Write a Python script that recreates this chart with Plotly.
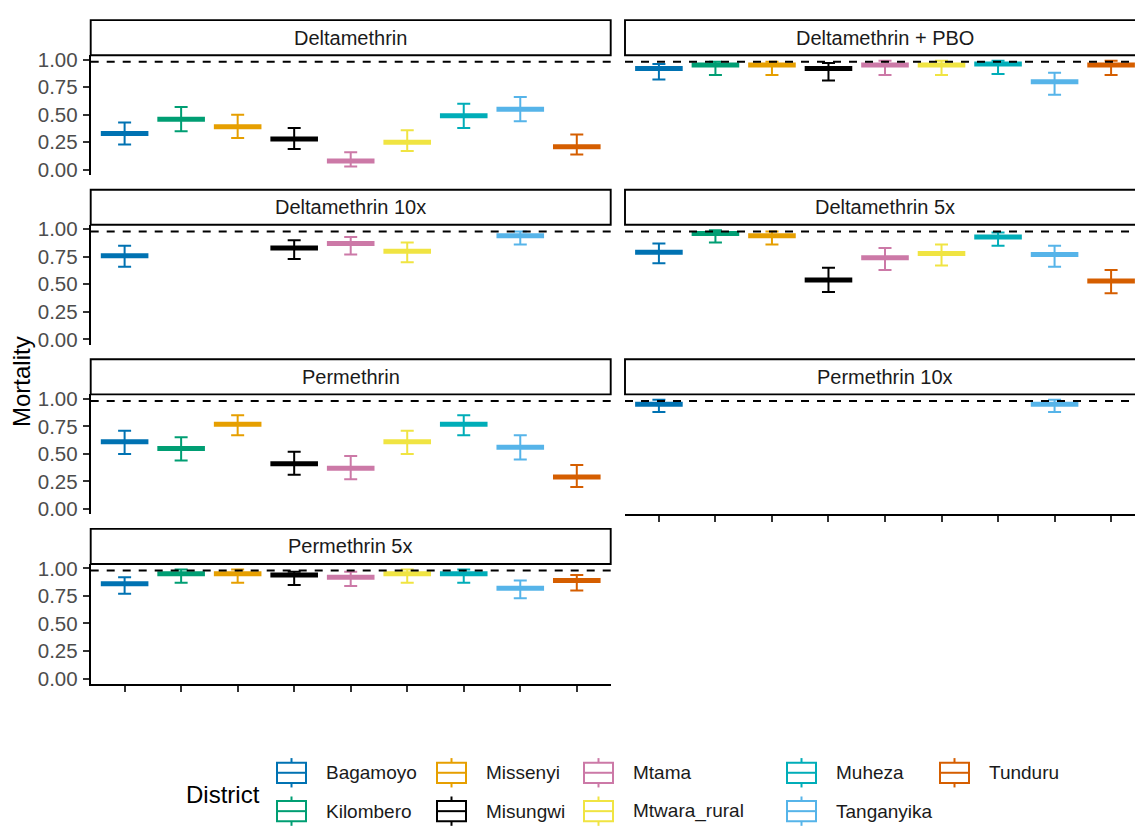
import plotly.graph_objects as go

# ---- data -------------------------------------------------------------
districts = ["Bagamoyo", "Kilombero", "Missenyi", "Misungwi", "Mtama",
             "Mtwara_rural", "Muheza", "Tanganyika", "Tunduru"]
district_colors = ["#0072B2", "#009E73", "#E69F00", "#000000", "#CC79A7",
                   "#F0E442", "#00ADB8", "#56B4E9", "#D55E00"]

insecticides = ["Deltamethrin", "Deltamethrin + PBO", "Deltamethrin 10x",
                "Deltamethrin 5x", "Permethrin", "Permethrin 10x", "Permethrin 5x"]

delta_mid = [0.33, 0.46, 0.39, 0.28, 0.08, 0.25, 0.49, 0.55, 0.21]
delta_lo = [0.23, 0.35, 0.29, 0.19, 0.03, 0.17, 0.38, 0.44, 0.14]
delta_hi = [0.43, 0.57, 0.50, 0.38, 0.16, 0.36, 0.60, 0.66, 0.32]

pbo_mid = [0.92, 0.95, 0.95, 0.92, 0.95, 0.95, 0.96, 0.80, 0.95]
pbo_lo = [0.82, 0.86, 0.86, 0.81, 0.86, 0.86, 0.87, 0.68, 0.86]
pbo_hi = [0.96, 0.98, 0.98, 0.97, 0.99, 0.99, 0.99, 0.88, 0.99]

delta10_mid = [0.76, None, None, 0.83, 0.87, 0.80, None, 0.94, None]
delta10_lo = [0.66, None, None, 0.73, 0.77, 0.70, None, 0.86, None]
delta10_hi = [0.85, None, None, 0.90, 0.93, 0.88, None, 0.98, None]

delta5_mid = [0.79, 0.96, 0.94, 0.54, 0.74, 0.78, 0.93, 0.77, 0.53]
delta5_lo = [0.69, 0.88, 0.86, 0.43, 0.63, 0.67, 0.85, 0.66, 0.42]
delta5_hi = [0.87, 0.99, 0.98, 0.65, 0.83, 0.86, 0.97, 0.85, 0.63]

perm_mid = [0.61, 0.55, 0.77, 0.41, 0.37, 0.61, 0.77, 0.56, 0.29]
perm_lo = [0.50, 0.44, 0.67, 0.31, 0.27, 0.50, 0.67, 0.45, 0.20]
perm_hi = [0.71, 0.65, 0.85, 0.52, 0.48, 0.71, 0.85, 0.67, 0.40]

perm10_mid = [0.95, None, None, None, None, None, None, 0.95, None]
perm10_lo = [0.88, None, None, None, None, None, None, 0.88, None]
perm10_hi = [0.99, None, None, None, None, None, None, 0.99, None]

perm5_mid = [0.86, 0.95, 0.95, 0.94, 0.92, 0.95, 0.95, 0.82, 0.89]
perm5_lo = [0.77, 0.87, 0.87, 0.85, 0.84, 0.87, 0.87, 0.73, 0.80]
perm5_hi = [0.92, 0.99, 0.99, 0.97, 0.97, 0.99, 0.99, 0.89, 0.94]

threshold = 0.98
y_ticks = [0.0, 0.25, 0.5, 0.75, 1.0]

# ---- page geometry (pixels) -------------------------------------------
W, H = 1135, 827
col_left = [(90.7, 610.7), (625.0, 1145.7)]
row_top = [49.0, 221.3, 393.6, 565.9]
panel_h = 122.0
strip_h = 35.7
y_range = [-0.0495, 1.0395]
unit_px = (col_left[0][1] - col_left[0][0]) / 9.2
FONT = "Liberation Sans, Arial, sans-serif"


def fx(px):
    return px / W


def fy(py):
    return 1 - py / H


# facet_wrap order: (name, column, row, mid, lo, hi)
panels = [
    (insecticides[0], 0, 0, delta_mid, delta_lo, delta_hi),
    (insecticides[1], 1, 0, pbo_mid, pbo_lo, pbo_hi),
    (insecticides[2], 0, 1, delta10_mid, delta10_lo, delta10_hi),
    (insecticides[3], 1, 1, delta5_mid, delta5_lo, delta5_hi),
    (insecticides[4], 0, 2, perm_mid, perm_lo, perm_hi),
    (insecticides[5], 1, 2, perm10_mid, perm10_lo, perm10_hi),
    (insecticides[6], 0, 3, perm5_mid, perm5_lo, perm5_hi),
]
bottom_panels = {insecticides[5], insecticides[6]}

fig = go.Figure()
layout = dict(
    width=W, height=H,
    margin=dict(l=0, r=0, t=0, b=0),
    paper_bgcolor="white", plot_bgcolor="white",
    showlegend=False,
    font=dict(family=FONT, color="#000000"),
)
shapes = []
annotations = []

for k, (name, col, row, mid, lo, hi) in enumerate(panels, start=1):
    xa = "x" if k == 1 else f"x{k}"
    ya = "y" if k == 1 else f"y{k}"
    x0, x1 = col_left[col]
    top = row_top[row]
    bottom = top + panel_h

    # error bars + thick centre line per district
    for j, d in enumerate(districts):
        if mid[j] is None:
            continue
        c = district_colors[j]
        fig.add_trace(go.Scatter(
            x=[d], y=[mid[j]], mode="markers",
            marker=dict(symbol="line-ew", size=34, color=c,
                        line=dict(color=c, width=5)),
            error_y=dict(type="data", symmetric=False,
                         array=[hi[j] - mid[j]], arrayminus=[mid[j] - lo[j]],
                         color=c, thickness=2, width=6.5),
            xaxis=xa, yaxis=ya, hoverinfo="skip", showlegend=False,
        ))

    is_left = col == 0
    is_bottom = name in bottom_panels
    right_px = min(x1, W)
    x_hi = -0.6 + (right_px - x0) / unit_px

    layout["xaxis" + ("" if k == 1 else str(k))] = dict(
        domain=[fx(x0), fx(right_px)],
        anchor=ya,
        type="category",
        categoryorder="array", categoryarray=districts,
        range=[-0.6, x_hi],
        showgrid=False, zeroline=False,
        showline=is_bottom, linecolor="#000000", linewidth=1.9,
        ticks="outside" if is_bottom else "", ticklen=6, tickwidth=1.7,
        tickcolor="#333333",
        showticklabels=False,
        fixedrange=True,
    )
    layout["yaxis" + ("" if k == 1 else str(k))] = dict(
        domain=[fy(bottom), fy(top)],
        anchor=xa,
        range=y_range,
        showgrid=False, zeroline=False,
        showline=is_left, linecolor="#000000", linewidth=1.9,
        ticks="outside" if is_left else "", ticklen=6, tickwidth=1.7,
        tickcolor="#333333",
        tickvals=y_ticks, tickformat=".2f",
        showticklabels=is_left, ticklabelstandoff=1,
        tickfont=dict(size=20.5, color="#4D4D4D", family=FONT),
        fixedrange=True,
    )

    # reference threshold
    shapes.append(dict(
        type="line", xref=f"{xa} domain", yref=ya,
        x0=0, x1=1, y0=threshold, y1=threshold,
        line=dict(color="#000000", width=2, dash="8px,8px"),
        layer="above",
    ))

    # facet strip
    shapes.append(dict(
        type="rect", xref="paper", yref="paper",
        x0=fx(x0), x1=fx(x1), y0=fy(top), y1=fy(top - strip_h),
        line=dict(color="#000000", width=1.9), fillcolor="white",
        layer="above",
    ))
    annotations.append(dict(
        text=name, xref="paper", yref="paper",
        x=fx((x0 + x1) / 2), y=fy(top - strip_h / 2),
        xanchor="center", yanchor="middle", showarrow=False,
        font=dict(size=20, color="#1A1A1A", family=FONT),
    ))

# y-axis title
annotations.append(dict(
    text="Mortality", xref="paper", yref="paper",
    x=fx(21), y=fy(381), xanchor="center", yanchor="middle",
    textangle=-90, showarrow=False,
    font=dict(size=24, color="#000000", family=FONT),
))

# legend drawn with boxplot-style keys
annotations.append(dict(
    text="District", xref="paper", yref="paper",
    x=fx(184), y=fy(800), xanchor="left", yanchor="middle",
    showarrow=False, font=dict(size=24, color="#000000", family=FONT),
))
key_x = [277, 437, 584, 787, 940]
key_y = [778, 817]
for i, d in enumerate(districts):
    c = district_colors[i]
    kx = key_x[i // 2]
    cy = key_y[i % 2]
    bw, bh, wh = 29, 10.3, 4.6
    shapes.append(dict(type="rect", xref="paper", yref="paper",
                       x0=fx(kx), x1=fx(kx + bw), y0=fy(cy + bh), y1=fy(cy - bh),
                       line=dict(color=c, width=2), fillcolor="white"))
    shapes.append(dict(type="line", xref="paper", yref="paper",
                       x0=fx(kx), x1=fx(kx + bw), y0=fy(cy), y1=fy(cy),
                       line=dict(color=c, width=2)))
    shapes.append(dict(type="line", xref="paper", yref="paper",
                       x0=fx(kx + bw / 2), x1=fx(kx + bw / 2),
                       y0=fy(cy - bh), y1=fy(cy - bh - wh),
                       line=dict(color=c, width=2)))
    shapes.append(dict(type="line", xref="paper", yref="paper",
                       x0=fx(kx + bw / 2), x1=fx(kx + bw / 2),
                       y0=fy(cy + bh), y1=fy(cy + bh + wh),
                       line=dict(color=c, width=2)))
    annotations.append(dict(
        text=d, xref="paper", yref="paper",
        x=fx(kx + 47), y=fy(cy), xanchor="left", yanchor="middle",
        showarrow=False, font=dict(size=19, color="#1A1A1A", family=FONT),
    ))

layout["shapes"] = shapes
layout["annotations"] = annotations
fig.update_layout(**layout)
fig.write_html("out.html", config={"displayModeBar": False})
